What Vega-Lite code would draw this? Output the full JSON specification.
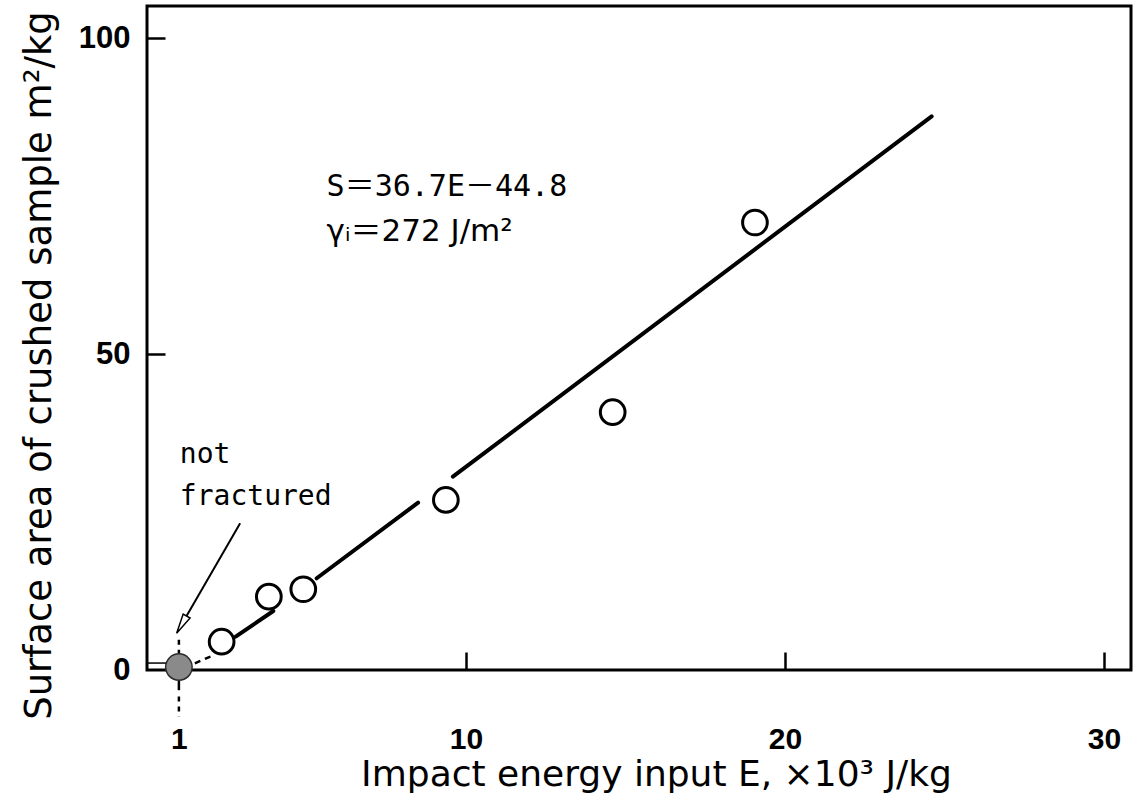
{
  "$schema": "https://vega.github.io/schema/vega-lite/v6.json",
  "width": 984,
  "height": 664,
  "autosize": {"type": "none"},
  "padding": {"left": 147, "top": 6, "right": 2, "bottom": 124},
  "background": "white",
  "config": {"view": {"stroke": "black", "strokeWidth": 3}},
  "encoding": {
    "x": {
      "field": "E", "type": "quantitative",
      "scale": {"domain": [0, 30.85], "nice": false, "zero": false},
      "axis": {
        "title": "Impact energy input E, ×10³ J/kg",
        "values": [1, 10, 20, 30],
        "domain": false, "grid": false,
        "tickSize": -18, "tickWidth": 2.5, "tickColor": "black",
        "tickOpacity": {"condition": {"test": "datum.value == 1", "value": 0}, "value": 1},
        "labelPadding": 72,
        "labelFont": "Liberation Sans",
        "labelFontSize": 30, "labelFontWeight": "bold", "labelColor": "black",
        "labelFlush": false, "labelOverlap": false,
        "titleFont": "DejaVu Sans", "titleFontSize": 36, "titleFontWeight": "normal", "titleColor": "black",
        "titleX": 509, "titleY": 115, "titleBaseline": "alphabetic"
      }
    },
    "y": {
      "field": "S", "type": "quantitative",
      "scale": {"domain": [0, 105.1], "nice": false, "zero": false},
      "axis": {
        "title": "Surface area of crushed sample m²/kg",
        "values": [0, 50, 100],
        "domain": false, "grid": false,
        "tickSize": -18, "tickWidth": 2.5, "tickColor": "black",
        "tickOpacity": {"condition": {"test": "datum.value == 0", "value": 0}, "value": 1},
        "labelPadding": 35,
        "labelFont": "Liberation Sans",
        "labelFontSize": 31, "labelFontWeight": "bold", "labelColor": "black",
        "labelFlush": false, "labelOverlap": false,
        "titleFont": "DejaVu Sans", "titleFontSize": 37, "titleFontWeight": "normal", "titleColor": "black",
        "titleX": -97, "titleY": 359, "titleBaseline": "alphabetic", "titleAngle": 270
      }
    }
  },
  "layer": [
    {
      "data": {"values": [{"E": 0, "S": 1.1, "E2": 0.6}]},
      "mark": {"type": "rule", "strokeWidth": 1.5, "color": "black"},
      "encoding": {"x2": {"field": "E2"}}
    },
    {
      "data": {"values": [
        {"seg": "A", "E": 2.78, "S": 5.27}, {"seg": "A", "E": 3.96, "S": 9.34},
        {"seg": "B", "E": 5.32, "S": 14.52}, {"seg": "B", "E": 8.50, "S": 26.49},
        {"seg": "C", "E": 9.59, "S": 30.61}, {"seg": "C", "E": 24.60, "S": 87.62}
      ]},
      "mark": {"type": "line", "strokeWidth": 4, "color": "black", "strokeCap": "round"},
      "encoding": {"detail": {"field": "seg"}}
    },
    {
      "data": {"values": [{"E": 1.50, "S": 1.06}, {"E": 2.03, "S": 2.22}]},
      "mark": {"type": "line", "strokeWidth": 2.5, "color": "black", "strokeDash": [6, 5]},
      "encoding": {}
    },
    {
      "data": {"values": [{"E": 1, "S": 2.4, "S2": 5.5}, {"E": 1, "S": -4.2, "S2": -7.4}]},
      "mark": {"type": "rule", "strokeWidth": 2.5, "color": "black", "strokeDash": [5, 5]},
      "encoding": {"y2": {"field": "S2"}}
    },
    {
      "data": {"values": [{"E": 1, "S": -1.6, "S2": -3.2}]},
      "mark": {"type": "rule", "strokeWidth": 2.5, "color": "black"},
      "encoding": {"y2": {"field": "S2"}}
    },
    {
      "data": {"values": [{"E": 2.92, "S": 23.23}, {"E": 1.24, "S": 8.55}]},
      "mark": {"type": "line", "strokeWidth": 2, "color": "black"},
      "encoding": {}
    },
    {
      "data": {"values": [{"E": 1.125, "S": 7.52}]},
      "mark": {"type": "point", "shape": "M0,-1L0.32,0.6L-0.32,0.6Z", "angle": 210, "size": 625, "fill": "white", "stroke": "black", "strokeWidth": 1.5, "opacity": 1},
      "encoding": {}
    },
    {
      "data": {"values": [{"E": 1, "S": 0.47}]},
      "mark": {"type": "point", "shape": "circle", "size": 700, "fill": "#8a8a8a", "stroke": "#2a2a2a", "strokeWidth": 1.5, "opacity": 1, "fillOpacity": 1},
      "encoding": {}
    },
    {
      "data": {"values": [
        {"E": 2.34, "S": 4.48}, {"E": 3.82, "S": 11.61}, {"E": 4.90, "S": 12.78},
        {"E": 9.37, "S": 26.92}, {"E": 14.60, "S": 40.81}, {"E": 19.06, "S": 70.83}
      ]},
      "mark": {"type": "point", "shape": "circle", "size": 610, "fill": "white", "stroke": "black", "strokeWidth": 3, "opacity": 1, "fillOpacity": 1},
      "encoding": {}
    },
    {
      "data": {"values": [{"E": 5.63, "S": 76.5, "t": "S＝36.7E－44.8"}]},
      "mark": {"type": "text", "align": "left", "baseline": "middle", "font": "DejaVu Sans Mono, Noto Sans CJK JP", "fontSize": 30, "color": "black"},
      "encoding": {"text": {"field": "t"}}
    },
    {
      "data": {"values": [{"E": 5.63, "S": 69.4, "t": "γᵢ＝272 J/m²"}]},
      "mark": {"type": "text", "align": "left", "baseline": "middle", "font": "DejaVu Sans, Noto Sans CJK JP", "fontSize": 31, "color": "black"},
      "encoding": {"text": {"field": "t"}}
    },
    {
      "data": {"values": [{"E": 1.03, "S": 34.0, "t": "not"}, {"E": 1.03, "S": 27.4, "t": "fractured"}]},
      "mark": {"type": "text", "align": "left", "baseline": "middle", "font": "DejaVu Sans Mono", "fontSize": 28, "color": "black"},
      "encoding": {"text": {"field": "t"}}
    }
  ]
}
